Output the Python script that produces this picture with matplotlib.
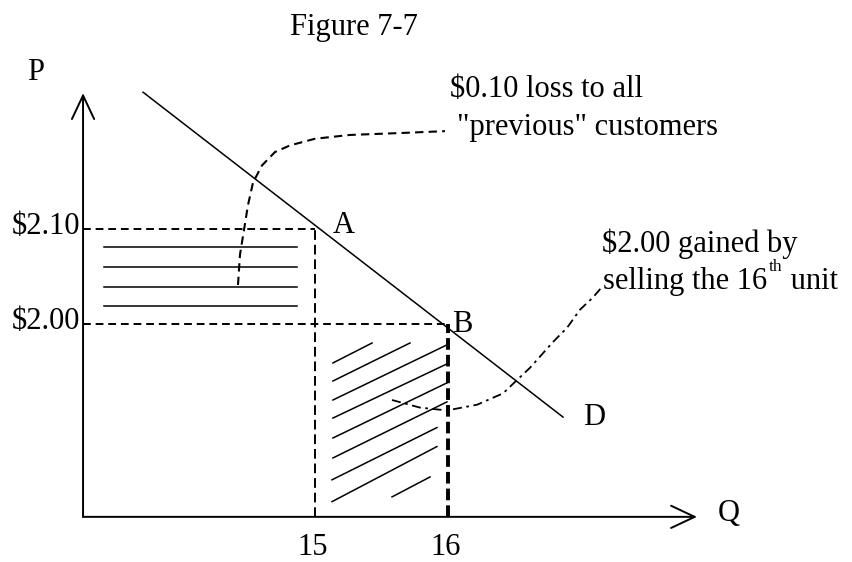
import matplotlib
matplotlib.use("Agg")
import matplotlib.pyplot as plt

plt.rcParams['font.family'] = ['Liberation Serif', 'DejaVu Serif']

# ejes del diagrama (unidades Q y P)
q_origen = 13.256
p_origen = 1.797
q_flecha = 17.872
p_flecha = 2.243

# precios y cantidades
precios = [2.10, 2.00]
cantidades = [15, 16]
etiquetas_precio = ["$2.10", "$2.00"]
etiquetas_cant = ["15", "16"]

# curva de demanda
q_demanda = [13.707, 16.865]
p_demanda = [2.244, 1.902]

# rayado horizontal (perdida)
p_rayas = [2.081, 2.060, 2.039, 2.019]
q_rayas = [13.414, 14.865]

# rayado diagonal (ganancia): q0, p0, q1, p1
rayas_diag = [
    (15.135, 1.959, 15.429, 1.980),
    (15.135, 1.940, 15.714, 1.980),
    (15.135, 1.920, 15.992, 1.978),
    (15.135, 1.901, 15.992, 1.958),
    (15.135, 1.880, 15.992, 1.938),
    (15.135, 1.859, 15.992, 1.918),
    (15.128, 1.836, 15.917, 1.891),
    (15.128, 1.813, 15.917, 1.871),
    (15.579, 1.818, 15.865, 1.839),
]

# curvas de las notas
q_perdida = [14.421, 14.436, 14.466, 14.496, 14.534, 14.602, 14.699, 14.812, 15.000, 15.263, 15.639, 15.977]
p_perdida = [2.041, 2.073, 2.099, 2.125, 2.149, 2.167, 2.181, 2.188, 2.195, 2.199, 2.201, 2.203]

q_ganancia = [15.579, 15.789, 15.992, 16.218, 16.414, 16.519, 16.617, 16.789, 16.895, 16.992, 17.090, 17.158]
p_ganancia = [1.920, 1.912, 1.909, 1.915, 1.927, 1.941, 1.954, 1.981, 1.996, 2.015, 2.028, 2.039]

fs = 22

fig = plt.figure(figsize=(8.52, 5.62), dpi=100)
ax = fig.add_axes([0, 0, 1, 1])
ax.set_xlim(12.6316, 19.0376)
ax.set_ylim(1.74947, 2.34105)
ax.axis('off')

fig.text(290 / 852, 1 - 35 / 562, "Figure 7-7", fontsize=fs, va='baseline')

# ejes con flechas abiertas
flecha = dict(arrowstyle='->,head_length=17,head_width=8', lw=1.4, color='black',
              shrinkA=0, shrinkB=0, mutation_scale=1)
ax.annotate('', xy=(q_origen, p_flecha), xytext=(q_origen, p_origen), arrowprops=flecha)
ax.annotate('', xy=(q_flecha, p_origen), xytext=(q_origen, p_origen), arrowprops=flecha)
ax.text(12.835, 2.257, "P", fontsize=fs, va='baseline')
ax.text(18.030, 1.7925, "Q", fontsize=fs, va='baseline')

# demanda
ax.plot(q_demanda, p_demanda, color='black', lw=1.1)
ax.text(17.015, 1.894, "D", fontsize=fs, va='baseline')

# lineas punteadas de precio y cantidad
ax.plot([q_origen, cantidades[0]], [precios[0]] * 2, color='black', lw=1.4, dashes=(4, 2.5))
ax.plot([q_origen, cantidades[1]], [precios[1]] * 2, color='black', lw=1.4, dashes=(4, 2.5))
ax.plot([cantidades[0]] * 2, [p_origen, precios[0]], color='black', lw=1.4, dashes=(5, 2.5))
ax.plot([cantidades[1]] * 2, [p_origen, precios[1]], color='black', lw=2.8, dashes=(3, 1.3))

for et, p in zip(etiquetas_precio, precios):
    ax.text(13.233, p - 0.0055, et, fontsize=fs, ha='right', va='baseline')
for et, q in zip(etiquetas_cant, cantidades):
    ax.text(q - 0.02, 1.7565, et, fontsize=fs, ha='center', va='baseline')

ax.text(15.135, 2.096, "A", fontsize=fs, va='baseline')
ax.text(16.030, 1.9916, "B", fontsize=fs, va='baseline')

# rayados
for p in p_rayas:
    ax.plot(q_rayas, [p, p], color='black', lw=1.1)
for q0, p0, q1, p1 in rayas_diag:
    ax.plot([q0, q1], [p0, p1], color='black', lw=1.1)

# curvas de las notas
ax.plot(q_perdida, p_perdida, color='black', lw=1.5, dashes=(4, 2.5))
ax.plot(q_ganancia, p_ganancia, color='black', lw=1.3, dashes=(5, 2.5, 1.5, 2.5))

# textos de las notas
ax.text(16.015, 2.239, "$0.10 loss to all", fontsize=fs, va='baseline')
ax.text(16.068, 2.1985, "\"previous\" customers", fontsize=fs, va='baseline')
ax.text(17.158, 2.0758, "$2.00 gained by", fontsize=fs, va='baseline')
t1 = ax.text(17.165, 2.0365, "selling the 16", fontsize=fs, va='baseline')
t2 = ax.annotate("th", xy=(1, 0), xycoords=t1, xytext=(1.5, 15.5), textcoords='offset points',
                 fontsize=12.5, va='bottom')
ax.annotate(" unit", xy=(1, 0), xycoords=(t2, t1), fontsize=fs, va='bottom')

fig.savefig("out.png", dpi=100)
